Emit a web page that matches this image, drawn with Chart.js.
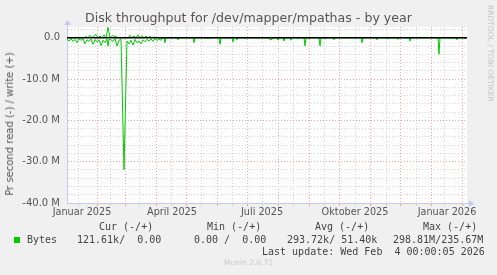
<!DOCTYPE html>
<html><head><meta charset="utf-8">
<script src="https://cdn.jsdelivr.net/npm/chart.js@4/dist/chart.umd.min.js"></script>
<style>
html,body{margin:0;padding:0;background:#f0f0f0;}
#wrap{position:relative;width:497px;height:275px;overflow:hidden;background:#f0f0f0;}
#c{position:absolute;left:0;top:0;}
.t{position:absolute;white-space:pre;font-family:"DejaVu Sans";color:#555;line-height:1;}
.m{position:absolute;white-space:pre;font-family:"DejaVu Sans Mono";font-size:10px;color:#444;line-height:12px;}
</style></head><body>
<div id="wrap">
<canvas id="c" width="497" height="275"></canvas>
<div class="t" style="left:0;width:497px;text-align:center;top:12px;font-size:12.6px;">Disk throughput for /dev/mapper/mpathas - by year</div>
<div class="t" style="left:0;top:124px;width:0;height:0;"><div style="position:absolute;left:10px;top:0;transform:translate(-50%,-50%) rotate(-90deg);font-size:10px;white-space:pre;">Pr second read (-) / write (+)</div></div>
<div class="t" style="left:484px;top:5px;font-size:7.5px;color:#c4c4c4;transform-origin:0 0;transform:translate(10px,0) rotate(90deg);">RRDTOOL / TOBI OETIKER</div>
<div class="m" style="left:99px;top:221px;">Cur (-/+)</div>
<div class="m" style="left:207px;top:221px;">Min (-/+)</div>
<div class="m" style="left:315px;top:221px;">Avg (-/+)</div>
<div class="m" style="left:423px;top:221px;">Max (-/+)</div>
<div style="position:absolute;left:14px;top:237px;width:6px;height:6px;background:#00cc00;"></div>
<div class="m" style="left:27px;top:234px;">Bytes</div>
<div class="m" style="left:77px;top:234px;">121.61k/  0.00</div>
<div class="m" style="left:194px;top:234px;">0.00 /  0.00</div>
<div class="m" style="left:287px;top:234px;">293.72k/ 51.40k</div>
<div class="m" style="left:393px;top:234px;">298.81M/235.67M</div>
<div class="m" style="left:262px;top:246px;">Last update: Wed Feb  4 00:00:05 2026</div>
<div class="t" style="left:0;width:497px;text-align:center;top:259px;font-size:7.5px;color:#c8c8c8;">Munin 2.0.75</div>
</div>
<script>
// x values: days since 1 Jan 2025
const monthStarts = [31, 59, 90, 120, 151, 181, 212, 243, 273, 304, 334, 365, 396];
const minorDays = [12, 44, 73, 105, 135, 166, 196, 227, 258, 289, 320, 350, 378];
const labelDays = [16, 106, 196, 289, 381];
const labelTexts = ['Januar 2025', 'April 2025', 'Juli 2025', 'Oktober 2025', 'Januar 2026'];
const yMajorTicks = [0, -10, -20, -30, -40];          // M
const yTickTexts = ['0.0', '-10.0 M', '-20.0 M', '-30.0 M', '-40.0 M'];

// read (plotted negative), MB/s
const readDays = [1, 3, 5, 7, 9, 11, 13, 15, 17, 19, 21, 23, 25, 27, 29, 31, 33, 35, 37, 39, 41, 42, 43, 45, 47, 49, 51, 53, 55, 58, 61, 63, 65, 67, 69, 71, 73, 75, 77, 79, 81, 83, 85, 87, 89, 91, 93, 95, 97,
  98, 99, 100, 111, 112, 113, 127, 128, 129, 141, 142, 143, 153, 154, 155, 166, 167, 168, 170, 171, 172, 178, 179, 180, 203, 204, 206, 207, 211, 212, 213, 217, 218, 219, 224, 225, 226, 231, 232, 233,
  238, 239, 240, 242, 243, 244, 253, 254, 255, 258, 259, 260, 267, 268, 269, 295, 296, 297, 310, 311, 312, 321, 322, 323, 331, 332, 333, 343, 344, 345, 372, 373, 374, 383, 384, 385, 390, 391, 392, 398, 399, 400, 401];
const readValues = [0.3, 0.8, 0.2, 0.9, 0.4, 1.2, 0.3, 0.6, 0.2, 1.5, 0.5, 0.9, 0.3, 1.6, 0.4, 1.0, 0.5, 1.9, 0.6, 1.2, 0.3, 2.0, 0.4, 0.5, 0.9, 0.2, 2.0, 0.6, 0.4, 31.9, 0.8, 1.5, 0.6, 1.8, 0.4, 1.2, 0.8, 1.5, 0.5, 1.0, 0.4, 0.8, 0.3, 0.9, 0.2, 0.7, 0.3, 0.6, 0,
  0, 1.2, 0, 0, 0.5, 0, 0, 1.2, 0, 0, 0.3, 0, 0, 1.6, 0, 0, 1.0, 0, 0, 0.5, 0, 0, 0.3, 0, 0, 0.5, 0.4, 0, 0, 0.6, 0, 0, 0.8, 0, 0, 0.6, 0, 0, 0.2, 0,
  0, 2.0, 0, 0, 0.3, 0, 0, 2.0, 0, 0, 0.3, 0, 0, 0.5, 0, 0, 1.2, 0, 0, 0.5, 0, 0, 0.3, 0, 0, 0.4, 0, 0, 0.8, 0, 0, 4.0, 0, 0, 0.3, 0, 0, 0.5, 0, 0, 0.3, 0, 0];

// write (plotted positive), MB/s
const writeDays = [1, 18, 20, 22, 24, 26, 30, 32, 34, 36, 38, 40, 42, 44, 46, 50, 52, 62, 64, 66, 68, 70, 72, 74, 76, 78, 80, 82, 84, 86, 88, 90, 401];
const writeValues = [0, 0, 0.3, 0, 0.6, 0, 0.8, 0, 0.4, 0, 0.7, 0, 2.5, 0, 0.5, 0.3, 0, 0, 0.6, 0, 0.4, 0, 0.7, 0, 0.5, 0, 0.4, 0, 0.3, 0, 0.2, 0, 0];

const M = 1e6;
const GREEN = '#00cc00';
const RED_GRID = '#eba5a5';
const GRAY_GRID = '#d2d2d2';
const AXIS = '#c8c8f0';

const arrows = {
  id: 'arrows',
  afterDraw(chart) {
    const {ctx, chartArea: a} = chart;
    ctx.save();
    ctx.fillStyle = AXIS;
    ctx.strokeStyle = AXIS;
    ctx.lineWidth = 1;
    ctx.beginPath();
    ctx.moveTo(a.right, a.bottom + 0.5); ctx.lineTo(a.right + 3, a.bottom + 0.5); ctx.stroke();
    ctx.beginPath();
    ctx.moveTo(a.right + 7, a.bottom + 0.5);
    ctx.lineTo(a.right + 2, a.bottom - 3);
    ctx.lineTo(a.right + 2, a.bottom + 4);
    ctx.closePath(); ctx.fill();
    ctx.beginPath();
    ctx.moveTo(a.left + 0.5, a.top - 7);
    ctx.lineTo(a.left - 3, a.top - 2);
    ctx.lineTo(a.left + 4, a.top - 2);
    ctx.closePath(); ctx.fill();
    ctx.beginPath();
    ctx.moveTo(a.left + 0.5, a.top - 2); ctx.lineTo(a.left + 0.5, a.top); ctx.stroke();
    ctx.restore();
  }
};

const bg = {
  id: 'bg',
  beforeDraw(chart) {
    const {ctx, chartArea: a} = chart;
    ctx.save();
    ctx.fillStyle = '#f0f0f0';
    ctx.fillRect(0, 0, chart.width, chart.height);
    ctx.fillStyle = '#ffffff';
    ctx.fillRect(a.left, a.top, a.right - a.left, a.bottom - a.top);
    ctx.restore();
  }
};

function xGridColor(v) {
  if (monthStarts.includes(v)) return RED_GRID;
  if (minorDays.includes(v)) return GRAY_GRID;
  return 'rgba(0,0,0,0)';
}

new Chart(document.getElementById('c'), {
  type: 'line',
  data: {
    datasets: [
      {label: 'zero', data: [{x: 1, y: 0}, {x: 401, y: 0}], borderColor: '#000000', borderWidth: 1.6, pointRadius: 0, order: 0},
      {label: 'read', data: readDays.map((d, i) => ({x: d, y: -readValues[i] * M})), borderColor: GREEN, borderWidth: 1, pointRadius: 0, tension: 0, order: 2},
      {label: 'write', data: writeDays.map((d, i) => ({x: d, y: writeValues[i] * M})), borderColor: GREEN, borderWidth: 1, pointRadius: 0, tension: 0, order: 1}
    ]
  },
  options: {
    responsive: false,
    animation: false,
    devicePixelRatio: 1,
    layout: {padding: {top: 27, right: 30, left: 0, bottom: 0}},
    plugins: {legend: {display: false}, tooltip: {enabled: false}, title: {display: false}},
    scales: {
      x: {
        type: 'linear', min: 1, max: 401,
        afterBuildTicks: s => {
          const vals = [...monthStarts, ...minorDays, ...labelDays.filter(v => !minorDays.includes(v))];
          s.ticks = vals.sort((a, b) => a - b).map(v => ({value: v}));
        },
        afterFit: s => { s.height = 72; },
        ticks: {
          autoSkip: false, maxRotation: 0, minRotation: 0, padding: 1,
          font: {family: 'DejaVu Sans', size: 9.7}, color: '#555',
          callback: v => { const i = labelDays.indexOf(v); return i >= 0 ? labelTexts[i] : ''; }
        },
        grid: {color: ctx => xGridColor(ctx.tick.value), tickColor: ctx => xGridColor(ctx.tick.value), lineWidth: 1, drawTicks: true, tickLength: 3},
        border: {display: true, color: AXIS, width: 1, dash: [1, 2]}
      },
      y: {
        type: 'linear', min: -40 * M, max: 2.6 * M,
        afterBuildTicks: s => {
          const t = [];
          for (let v = -40; v <= 2; v += 2) t.push({value: v * M});
          s.ticks = t;
        },
        afterFit: s => { s.width = 67; },
        ticks: {
          autoSkip: false, padding: 7,
          font: {family: 'DejaVu Sans', size: 10}, color: '#555',
          callback: v => { const i = yMajorTicks.indexOf(Math.round(v / M * 1000) / 1000); return i >= 0 ? yTickTexts[i] : ''; }
        },
        grid: {color: ctx => (ctx.tick.value % (10 * M) === 0) ? RED_GRID : GRAY_GRID, lineWidth: 1, drawTicks: false},
        border: {display: true, color: AXIS, width: 1, dash: [1, 2]}
      }
    }
  },
  plugins: [bg, arrows]
});
</script>
</body></html>
